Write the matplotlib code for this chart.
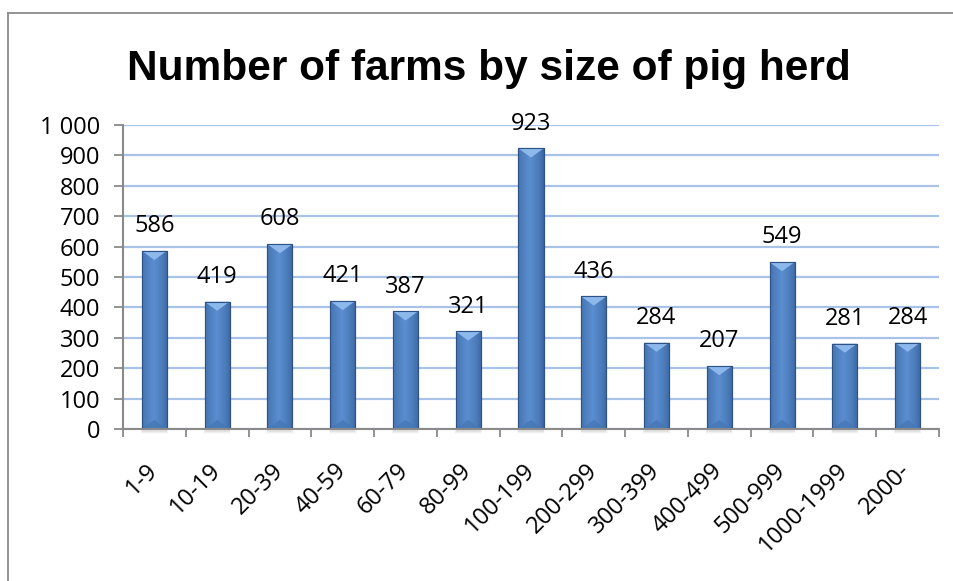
import matplotlib
matplotlib.use("Agg")
import matplotlib.pyplot as plt
import matplotlib.transforms as mtransforms
import numpy as np
from matplotlib.patches import Polygon
from matplotlib.lines import Line2D
from matplotlib.colors import to_rgb

categories = ["1-9", "10-19", "20-39", "40-59", "60-79", "80-99", "100-199",
              "200-299", "300-399", "400-499", "500-999", "1000-1999", "2000-"]
farms = [586, 419, 608, 421, 387, 321, 923, 436, 284, 207, 549, 281, 284]
y_ticks = [0, 100, 200, 300, 400, 500, 600, 700, 800, 900, 1000]
y_tick_labels = ["0", "100", "200", "300", "400", "500", "600", "700", "800", "900", "1 000"]

title = "Number of farms by size of pig herd"

W, H, DPI = 954, 581, 100
LABEL_FONT = ["Open Sans", "DejaVu Sans"]
LABEL_SIZE = 17

fig = plt.figure(figsize=(W / DPI, H / DPI), dpi=DPI)
fig.patch.set_facecolor("white")

# chart frame (left and top edges)
frame_col = "#8a8a8a"
fx, fy = 8 / W, 1 - 13 / H
fig.add_artist(Line2D([fx, fx], [0, fy], color=frame_col, lw=1.3, transform=fig.transFigure))
fig.add_artist(Line2D([fx, 1], [fy, fy], color=frame_col, lw=1.3, transform=fig.transFigure))

fig.text(0.512, 1 - 80 / H, title, ha="center", va="baseline",
         fontsize=30.5, fontweight="bold", family=["Liberation Sans", "DejaVu Sans"])

ax = fig.add_axes([123 / W, 1 - 429 / H, (939 - 123) / W, (429 - 125) / H])

x = np.arange(len(categories))
bar_w = 0.40
bars = ax.bar(x, farms, width=bar_w, color="#4F81BD", edgecolor="#2F5286",
              linewidth=0.8, zorder=3)

# horizontal shading across each bar
n = 64
t = np.linspace(0, 1, n)
dark = np.array(to_rgb("#38629C"))
mid = np.array(to_rgb("#5A8ED0"))
prof = np.clip(1 - np.abs(t - 0.45) / 0.55, 0, 1) ** 0.6
grad = dark[None, :] + (mid - dark)[None, :] * prof[:, None]
grad = grad[None, :, :]

depth = 30  # chevron depth in value units
for rect, v in zip(bars, farms):
    x0 = rect.get_x()
    x1 = x0 + rect.get_width()
    xc = (x0 + x1) / 2
    # soft shadow under the bar
    for k, a in enumerate([0.09, 0.06, 0.03]):
        ax.add_patch(plt.Rectangle((x0 - 0.01 * k, -10 - 4 * k), rect.get_width() + 0.02 * k,
                                   10 + 4 * k, color="#606060", alpha=a, lw=0, zorder=2,
                                   clip_on=False))
    im = ax.imshow(grad, extent=(x0, x1, 0, v), aspect="auto", zorder=3.5,
                   interpolation="bilinear")
    im.set_clip_path(rect)
    top_d = min(depth, v)
    ax.add_patch(Polygon([(x0, v), (x1, v), (xc, v - top_d)], closed=True,
                         facecolor="#8DB8EC", edgecolor="none", zorder=4))
    ax.add_patch(Polygon([(x0, 0), (x1, 0), (xc, min(depth, v))], closed=True,
                         facecolor="#4677B5", edgecolor="none", zorder=4, alpha=0.8))
    ax.add_patch(plt.Rectangle((x0, 0), rect.get_width(), v, fill=False,
                               edgecolor="#2F5286", lw=0.8, zorder=4.5))
    ax.annotate(f"{v}", (xc, v), xytext=(0, 13.5), textcoords="offset points",
                ha="center", va="baseline", fontsize=LABEL_SIZE, color="black",
                family=LABEL_FONT)

ax.set_xlim(-0.5, len(categories) - 0.5)
ax.set_ylim(0, 1000)

ax.set_yticks(y_ticks)
ax.set_yticklabels(y_tick_labels, fontsize=LABEL_SIZE, family=LABEL_FONT)
ax.yaxis.grid(True, color="#A8C2E8", lw=1.6, zorder=0)
ax.set_axisbelow(True)

ax.set_xticks(x)
ax.set_xticklabels(categories, fontsize=LABEL_SIZE, family=LABEL_FONT,
                   rotation=45, ha="right", va="center", rotation_mode="anchor")
shift = mtransforms.ScaledTranslation(9 / DPI, 0, fig.dpi_scale_trans)
for lbl in ax.get_xticklabels():
    lbl.set_transform(lbl.get_transform() + shift)
ax.set_xticks(np.arange(len(categories) + 1) - 0.5, minor=True)
ax.tick_params(axis="x", which="major", length=0, pad=27.5)
ax.tick_params(axis="x", which="minor", length=6, width=1.3, color=frame_col)
ax.tick_params(axis="y", length=6.5, width=1.3, color=frame_col, pad=10)

for s in ["top", "right"]:
    ax.spines[s].set_visible(False)
for s in ["left", "bottom"]:
    ax.spines[s].set_color(frame_col)
    ax.spines[s].set_linewidth(1.5)
    ax.spines[s].set_zorder(5)

fig.savefig("out.png", dpi=DPI)
